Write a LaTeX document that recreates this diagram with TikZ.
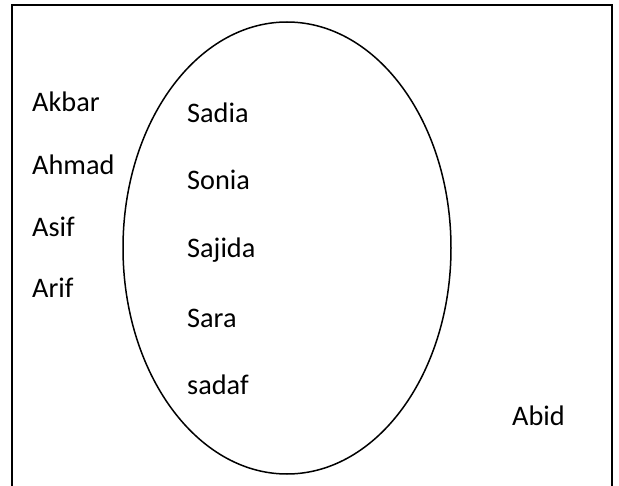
\documentclass[tikz,border=0pt]{standalone}
\usepackage{fontspec}
\setmainfont{Carlito}
\usetikzlibrary{shapes.geometric}
\begin{document}
\begin{tikzpicture}[x=1pt,y=-1pt,
  person/.style={anchor=base west,inner sep=0pt,font=\fontsize{28.3}{30}\selectfont}]
\useasboundingbox (0,0) rectangle (619,486);
\draw[line width=2pt] (12,495) -- (12,5) -- (612,5) -- (612,495);
\node[draw,line width=1.5pt,ellipse,minimum width=328pt,minimum height=452pt,inner sep=0pt] (set) at (287,248) {};
\node[person] (akbar) at (32,112) {Akbar};
\node[person] (ahmad) at (32,175) {Ahmad};
\node[person] (asif) at (32,237) {Asif};
\node[person] (arif) at (32,298) {Arif};
\node[person] (sadia) at (187,123) {Sadia};
\node[person] (sonia) at (187,190) {Sonia};
\node[person] (sajida) at (187,258) {Sajida};
\node[person] (sara) at (187,328) {Sara};
\node[person] (sadaf) at (187,395) {sadaf};
\node[person] (abid) at (512,425) {Abid};
\end{tikzpicture}
\end{document}
